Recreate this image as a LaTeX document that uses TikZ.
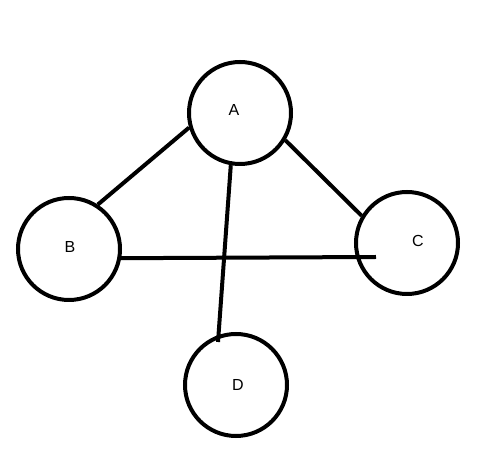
\documentclass[tikz,border=0pt]{standalone}
\usepackage{fontspec}
\setmainfont{Liberation Sans}
\usetikzlibrary{calc}
\begin{document}
\begin{tikzpicture}[x=1pt,y=1pt,
  vertex/.style={circle,draw=black,line width=4pt,minimum size=102pt,inner sep=0pt},
  lbl/.style={font=\fontsize{16}{16}\selectfont,inner sep=0pt},
  edge/.style={line width=4pt}]
\useasboundingbox (0,0) rectangle (480,466);
\node[vertex] (A) at (240,353) {};
\node[vertex] (B) at (69,217) {};
\node[vertex] (C) at (407,223) {};
\node[vertex] (D) at (236,81) {};
\node[lbl] (tA) at (234,356) {A};
\node[lbl] (tB) at (70,219) {B};
\node[lbl] (tC) at (418,225) {C};
\node[lbl] (tD) at (238,81) {D};
\coordinate (dend) at ($(D.center)+(-18,43)$);
\coordinate (cend) at ($(C.center)+(-31,-14)$);
\draw[edge] (A.196) -- (B.57);
\draw[edge] (A.-31) -- (C.149);
\draw[edge] (A.260) -- (dend);
\draw[edge] (B.-10) -- (cend);
\end{tikzpicture}
\end{document}
